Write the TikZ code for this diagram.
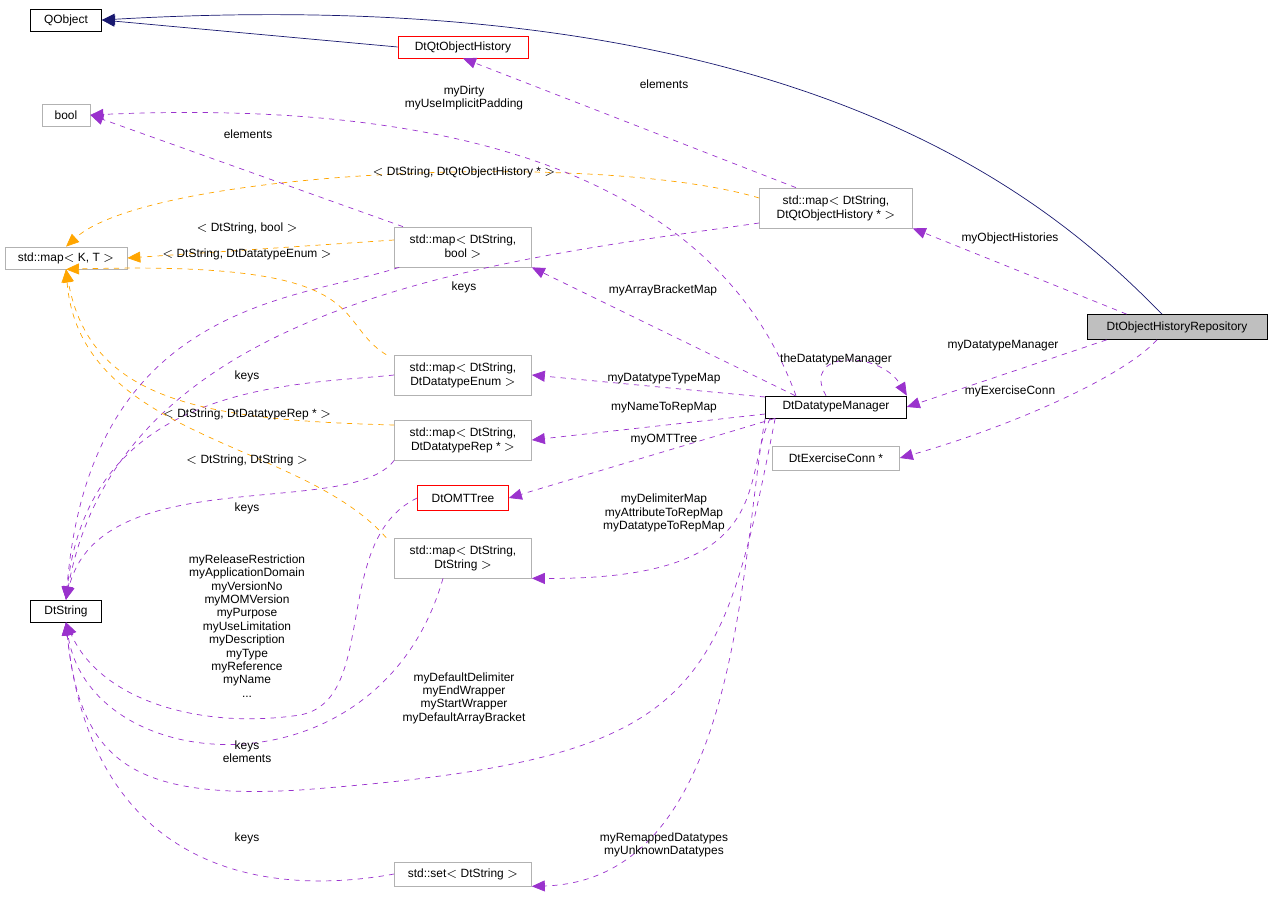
\documentclass[tikz,border=0pt]{standalone}
\usepackage{fontspec}
\setmainfont{Liberation Sans}
\usetikzlibrary{arrows.meta,positioning}
\definecolor{edgeuse}{RGB}{154,50,205}
\definecolor{edgeinh}{RGB}{25,25,112}
\definecolor{edgetpl}{RGB}{255,165,0}
\tikzset{
  cls/.style={draw, rectangle, inner sep=1pt, minimum height=0.44cm, align=center, font=\fontsize{6.8}{8}\selectfont},
  gcls/.style={cls, draw=black!30},
  rcls/.style={cls, draw=red},
  two/.style={minimum height=0.8cm},
  inh/.style={draw=edgeinh, -{Triangle[length=2.6mm,width=2.2mm]}},
  use/.style={draw=edgeuse, dashed, -{Triangle[length=2.6mm,width=2.2mm]}},
  tpl/.style={draw=edgetpl, dashed, -{Triangle[length=2.6mm,width=2.2mm]}},
  lbl/.style={font=\fontsize{6.8}{7.6}\selectfont, align=center, inner sep=0pt}
}
\begin{document}
\begin{tikzpicture}[x=0.02cm, y=-0.02cm]
\useasboundingbox (0,0) rectangle (1272,909);
% Classes
\node[cls, minimum width=1.42cm] (qobj) at (66,20) {QObject};
\node[rcls, minimum width=2.6cm] (qth) at (463,47) {DtQtObjectHistory};
\node[gcls, minimum width=0.96cm] (bool) at (66,115) {bool};
\node[gcls, minimum width=2.44cm] (mapkt) at (66,258) {std::map$<$ K, T $>$};
\node[cls, minimum width=1.42cm] (dtstr) at (66,611) {DtString};
\node[gcls, two, minimum width=2.74cm] (mbool) at (463,247) {std::map$<$ DtString,\\bool $>$};
\node[gcls, two, minimum width=3.06cm] (mqth) at (836,208) {std::map$<$ DtString,\\DtQtObjectHistory * $>$};
\node[cls, fill=black!25, minimum width=3.6cm, minimum height=0.5cm] (repo) at (1177,327) {DtObjectHistoryRepository};
\node[cls, minimum width=2.82cm] (dtm) at (836,407) {DtDatatypeManager};
\node[gcls, two, minimum width=2.74cm] (menum) at (463,375) {std::map$<$ DtString,\\DtDatatypeEnum $>$};
\node[gcls, two, minimum width=2.74cm] (mrep) at (463,440) {std::map$<$ DtString,\\DtDatatypeRep * $>$};
\node[rcls, minimum width=1.82cm, minimum height=0.5cm] (omt) at (463,498) {DtOMTTree};
\node[gcls, two, minimum width=2.74cm] (mstr) at (463,558) {std::map$<$ DtString,\\DtString $>$};
\node[gcls, minimum width=2.54cm, minimum height=0.48cm] (exc) at (836,458) {DtExerciseConn *};
\node[gcls, minimum width=2.74cm, minimum height=0.48cm] (sset) at (463,874) {std::set$<$ DtString $>$};

% Inheritance
\draw[inh] (repo.north) ++(-15,0) .. controls (1050,200) and (800,-20) .. (qobj.east);
\draw[inh] (qth.west) -- (qobj.east);

% Members of the repository
\draw[use] (repo.north west) ++(40,0) -- (mqth.south east);
\draw[use] (repo.south west) ++(20,0) -- (dtm.east);
\draw[use] (repo.south) ++(-20,0) .. controls (1120,380) and (1000,430) .. (exc.east);
\node[lbl] (l_hist) at (1010,238) {myObjectHistories};
\node[lbl] (l_dtm) at (1003,346) {myDatatypeManager};
\node[lbl] (l_exc) at (1010,391) {myExerciseConn};

% Template maps
\draw[use] (mqth.north) ++(-40,0) -- (qth.south);
\node[lbl] (l_elq) at (664,84) {elements};
\draw[tpl] (mqth.west) ++(0,-10) .. controls (600,150) and (150,170) .. (mapkt.north);
\node[lbl] (l_tq) at (464,172) {$<$ DtString, DtQtObjectHistory * $>$};
\draw[use] (mqth.west) ++(0,15) .. controls (500,260) and (120,300) .. (dtstr.north);
\node[lbl] (l_kq) at (464,287) {keys};
\draw[use] (mbool.north) ++(-60,0) -- (bool.east);
\node[lbl] (l_elb) at (248,134) {elements};
\draw[tpl] (mbool.west) ++(0,-7) -- (mapkt.east);
\node[lbl] (l_tb) at (247,228) {$<$ DtString, bool $>$};
\draw[use] (mbool.south west) ++(5,0) .. controls (300,300) and (90,300) .. (dtstr.north);
\draw[tpl] (menum.north west) ++(-8,0) .. controls (330,320) and (380,260) .. (mapkt.south);
\node[lbl] (l_te) at (247,254) {$<$ DtString, DtDatatypeEnum $>$};
\draw[use] (menum.west) .. controls (300,385) and (90,380) .. (dtstr.north);
\node[lbl] (l_ke) at (247,376) {keys};
\draw[tpl] (mrep.west) ++(0,-15) .. controls (200,420) and (90,400) .. (mapkt.south);
\node[lbl] (l_tr) at (247,414) {$<$ DtString, DtDatatypeRep * $>$};
\draw[use] (mrep.south west) .. controls (350,520) and (100,460) .. (dtstr.north);
\node[lbl] (l_kr) at (247,508) {keys};
\draw[tpl] (mstr.north west) ++(-8,0) .. controls (300,440) and (80,440) .. (mapkt.south);
\node[lbl] (l_ts) at (247,460) {$<$ DtString, DtString $>$};
\draw[use] (mstr.south) ++(-20,0) .. controls (380,800) and (90,780) .. (dtstr.south);
\node[lbl] (l_ks) at (247,752) {keys\\elements};
\draw[use] (omt.west) .. controls (330,540) and (380,700) .. (300,715) .. controls (200,730) and (100,700) .. (dtstr.south);
\node[lbl] (l_omt) at (247,626) {myReleaseRestriction\\myApplicationDomain\\myVersionNo\\myMOMVersion\\myPurpose\\myUseLimitation\\myDescription\\myType\\myReference\\myName\\...};
\draw[use] (sset.west) .. controls (250,900) and (90,860) .. (dtstr.south);
\node[lbl] (l_kset) at (247,838) {keys};

% Members of the datatype manager
\draw[use] (dtm.north) ++(-40,0) .. controls (760,300) and (650,90) .. (bool.east);
\node[lbl] (l_bool) at (464,98) {myDirty\\myUseImplicitPadding};
\draw[use] (dtm.north west) ++(30,0) -- (mbool.south east);
\node[lbl] (l_arr) at (663,290) {myArrayBracketMap};
\draw[use] (dtm.north) ++(-10,0) .. controls (800,350) and (880,350) .. (dtm.north east);
\node[lbl] (l_self) at (836,359) {theDatatypeManager};
\draw[use] (dtm.west) ++(0,-10) -- (menum.east);
\node[lbl] (l_tmap) at (664,379) {myDatatypeTypeMap};
\draw[use] (dtm.west) ++(0,7) -- (mrep.east);
\node[lbl] (l_nrep) at (664,408) {myNameToRepMap};
\draw[use] (dtm.south west) ++(10,0) -- (omt.east);
\node[lbl] (l_omtt) at (664,440) {myOMTTree};
\draw[use] (dtm.south west) ++(5,0) .. controls (740,480) and (780,580) .. (mstr.south east);
\node[lbl] (l_dmap) at (664,513) {myDelimiterMap\\myAttributeToRepMap\\myDatatypeToRepMap};
\draw[use] (dtm.south west) ++(10,0) .. controls (720,700) and (700,760) .. (300,790) .. controls (130,800) and (80,760) .. (dtstr.south);
\node[lbl] (l_delim) at (464,698) {myDefaultDelimiter\\myEndWrapper\\myStartWrapper\\myDefaultArrayBracket};
\draw[use] (dtm.south west) .. controls (740,560) and (740,880) .. (sset.south east);
\node[lbl] (l_set) at (664,845) {myRemappedDatatypes\\myUnknownDatatypes};
\end{tikzpicture}
\end{document}
